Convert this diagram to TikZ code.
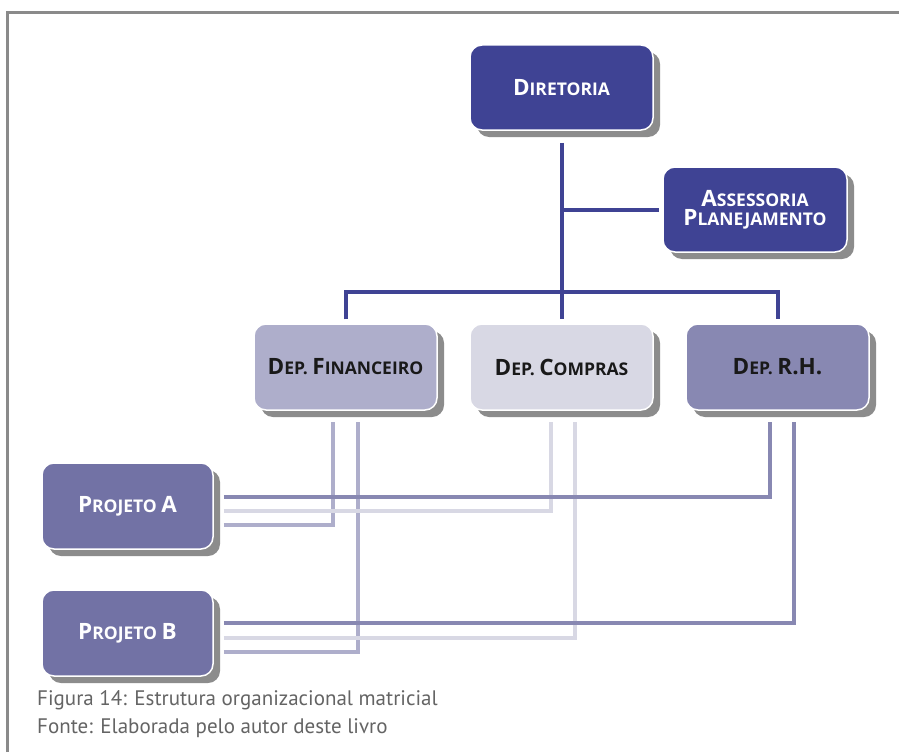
\documentclass[tikz,border=0pt]{standalone}
\usepackage{fontspec}
\setmainfont{PT Sans}
\newfontfamily\boxfont{Open Sans}
\usetikzlibrary{shadows}

% colours
\definecolor{navy}{RGB}{63,67,148}
\definecolor{finfill}{RGB}{174,174,203}
\definecolor{comfill}{RGB}{216,216,228}
\definecolor{rhfill}{RGB}{136,136,178}
\definecolor{projfill}{RGB}{114,114,165}
\definecolor{shadowgray}{RGB}{140,140,140}
\definecolor{framegray}{RGB}{138,138,138}
\definecolor{captiongray}{RGB}{100,100,100}
\definecolor{darktext}{RGB}{25,25,25}

% hand-made small capitals: a full-size initial
\newcommand\Cap[1]{{\fontsize{22.5}{19}\selectfont #1}}

\tikzset{
  unitbox/.style={rectangle, rounded corners=12pt, draw=white, line width=1.5pt,
    minimum width=183pt, minimum height=85pt, inner sep=0pt, align=center,
    font=\boxfont\bfseries\fontsize{17.5}{19}\selectfont,
    drop shadow={shadow xshift=7pt, shadow yshift=-7pt, fill=shadowgray, opacity=1}},
  topbox/.style={unitbox, fill=navy, text=white},
  depbox/.style={unitbox, text=darktext},
  projbox/.style={unitbox, fill=projfill, text=white, minimum width=171pt, minimum height=86pt},
  bus/.style={draw=navy, line width=4pt},
  finline/.style={draw=finfill, line width=4pt},
  comline/.style={draw=comfill, line width=4pt},
  rhline/.style={draw=rhfill, line width=4pt},
  caption/.style={anchor=base west, inner sep=0pt, text=captiongray,
    font=\fontsize{21}{24}\selectfont}
}

\begin{document}
\begin{tikzpicture}[x=1pt, y=-1pt]
  \useasboundingbox (0,0) rectangle (899,752);
  \fill[white] (0,0) rectangle (899,752);

  % frame on the top and left edges
  \draw[framegray, line width=3pt] (7,752) -- (7,12.5) -- (899,12.5);

  % boxes
  \node[topbox] (dir) at (561.5,87.5) {\Cap{D}IRETORIA};
  \node[topbox, minimum width=184pt] (ass) at (755,209.5)
    {\Cap{A}SSESSORIA\\\Cap{P}LANEJAMENTO};
  \node[depbox, fill=finfill, minimum height=86pt] (fin) at (345.5,367)
    {\Cap{D}EP. \Cap{F}INANCEIRO};
  \node[depbox, fill=comfill, minimum height=86pt] (com) at (561.5,367)
    {\Cap{D}EP. \Cap{C}OMPRAS};
  \node[depbox, fill=rhfill, minimum height=86pt] (rh) at (777.5,367)
    {\Cap{D}EP. \Cap{R.H.}};
  \node[projbox] (pa) at (127.5,506) {\Cap{P}ROJETO \Cap{A}};
  \node[projbox] (pb) at (127.5,633) {\Cap{P}ROJETO \Cap{B}};

  % hierarchy
  \coordinate (hub) at (561.5,292);
  \coordinate (staff) at (561.5,210);
  \draw[bus] ([yshift=-12pt]dir.south) -- (hub);
  \draw[bus] (staff) -- ([xshift=-3pt]staff -| ass.west);
  \draw[bus] ([yshift=4pt]fin.north) |- (hub) -| ([yshift=4pt]rh.north);
  \draw[bus] (hub) -- ([yshift=4pt]com.north);

  % matrix links: department -> project
  \draw[finline] ([xshift=10pt,yshift=-19pt]pa.east) -| ([xshift=-12.5pt,yshift=-11pt]fin.south);
  \draw[finline] ([xshift=10pt,yshift=-19pt]pb.east) -| ([xshift=12.5pt,yshift=-11pt]fin.south);
  \draw[comline] ([xshift=10pt,yshift=-5pt]pa.east) -| ([xshift=-11pt,yshift=-11pt]com.south);
  \draw[comline] ([xshift=10pt,yshift=-5pt]pb.east) -| ([xshift=13.5pt,yshift=-11pt]com.south);
  \draw[rhline] ([xshift=10pt,yshift=9pt]pa.east) -| ([xshift=-8pt,yshift=-11pt]rh.south);
  \draw[rhline] ([xshift=10pt,yshift=10pt]pb.east) -| ([xshift=16.5pt,yshift=-11pt]rh.south);

  % caption
  \node[caption] (cap1) at (37,705) {Figura 14: Estrutura organizacional matricial};
  \node[caption] (cap2) at (37,733) {Fonte: Elaborada pelo autor deste livro};
\end{tikzpicture}
\end{document}
